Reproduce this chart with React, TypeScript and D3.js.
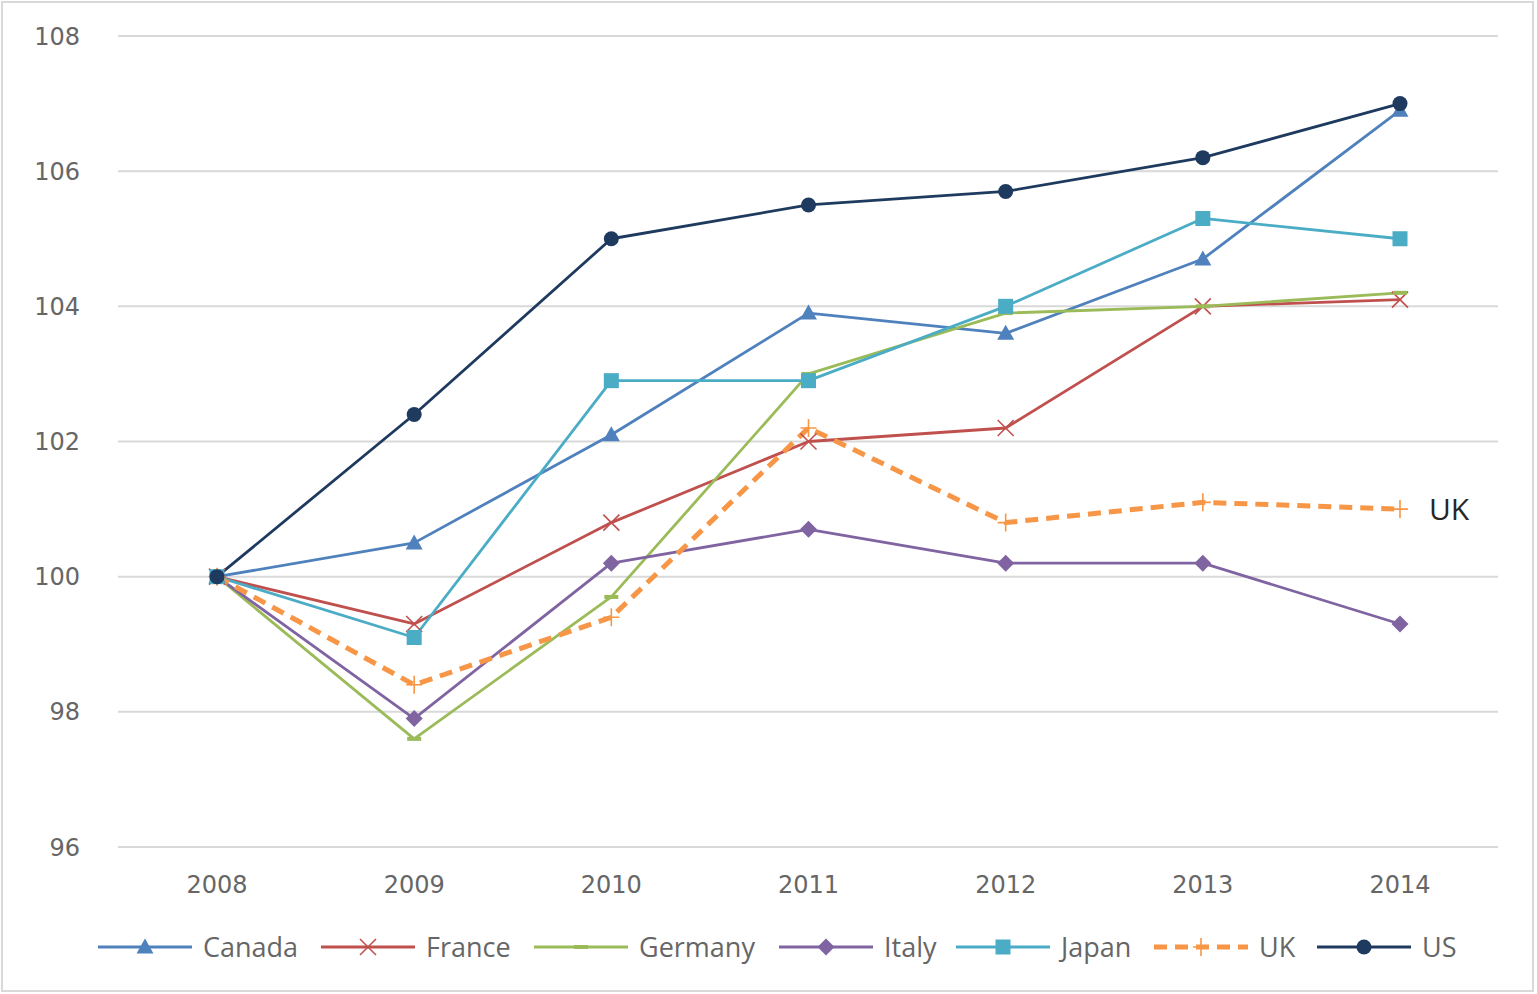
import React from "react";
import * as d3 from "d3";

// Real GDP index, 2008 = 100
const years = ["2008", "2009", "2010", "2011", "2012", "2013", "2014"];
const yTicks = [96, 98, 100, 102, 104, 106, 108];

const canada = [100, 100.5, 102.1, 103.9, 103.6, 104.7, 106.9];
const france = [100, 99.3, 100.8, 102.0, 102.2, 104.0, 104.1];
const germany = [100, 97.6, 99.7, 103.0, 103.9, 104.0, 104.2];
const italy = [100, 97.9, 100.2, 100.7, 100.2, 100.2, 99.3];
const japan = [100, 99.1, 102.9, 102.9, 104.0, 105.3, 105.0];
const uk = [100, 98.4, 99.4, 102.2, 100.8, 101.1, 101.0];
const us = [100, 102.4, 105.0, 105.5, 105.7, 106.2, 107.0];

type Marker = "triangle" | "cross" | "dash" | "diamond" | "square" | "plus" | "circle";
interface Series {
  name: string;
  values: number[];
  color: string;
  marker: Marker;
  dashed?: boolean;
}

const series: Series[] = [
  { name: "Canada", values: canada, color: "#4F81BD", marker: "triangle" },
  { name: "France", values: france, color: "#C0504D", marker: "cross" },
  { name: "Germany", values: germany, color: "#9BBB59", marker: "dash" },
  { name: "Italy", values: italy, color: "#8064A2", marker: "diamond" },
  { name: "Japan", values: japan, color: "#4BACC6", marker: "square" },
  { name: "UK", values: uk, color: "#F79646", marker: "plus", dashed: true },
  { name: "US", values: us, color: "#1F3A5F", marker: "circle" },
];

// legend item start positions (line start) in px
const legendX = [98, 321, 534, 779, 956, 1154, 1317];

const W = 1537;
const H = 994;
const FONT = "'Open Sans', 'DejaVu Sans', sans-serif";
const TICK_FONT = "'DejaVu Sans', 'Open Sans', sans-serif";

function MarkerShape({ type, x, y, color }: { type: Marker; x: number; y: number; color: string }) {
  switch (type) {
    case "triangle":
      return <path d={`M${x},${y - 8.5} L${x + 8.5},${y + 6.5} L${x - 8.5},${y + 6.5} Z`} fill={color} />;
    case "cross":
      return (
        <path
          d={`M${x - 8},${y - 8} L${x + 8},${y + 8} M${x - 8},${y + 8} L${x + 8},${y - 8}`}
          stroke={color}
          strokeWidth={1.6}
          fill="none"
        />
      );
    case "dash":
      return <rect x={x - 7} y={y - 2} width={14} height={4} fill={color} />;
    case "diamond":
      return <path d={`M${x},${y - 8.5} L${x + 8.5},${y} L${x},${y + 8.5} L${x - 8.5},${y} Z`} fill={color} />;
    case "square":
      return <rect x={x - 7.5} y={y - 7.5} width={15} height={15} fill={color} />;
    case "plus":
      return (
        <path
          d={`M${x - 8},${y} L${x + 8},${y} M${x},${y - 9} L${x},${y + 9}`}
          stroke={color}
          strokeWidth={1.6}
          fill="none"
        />
      );
    case "circle":
      return <circle cx={x} cy={y} r={7.5} fill={color} />;
  }
}

export default function App() {
  const x = d3.scalePoint<string>().domain(years).range([217, 1400]);
  const y = d3.scaleLinear().domain([96, 108]).range([847, 36]);
  const line = d3
    .line<number>()
    .x((_, i) => x(years[i]) as number)
    .y((v) => y(v));

  const ukLast = uk[uk.length - 1];

  return (
    <svg
      width={W}
      height={H}
      style={{ position: "absolute", left: 0, top: 0, background: "#fff" }}
      fontFamily={FONT}
    >
      <rect x={2} y={2} width={W - 6} height={H - 5} fill="#fff" stroke="#d9d9d9" strokeWidth={2} />

      {/* horizontal gridlines and value labels */}
      {yTicks.map((t) => (
        <g key={t}>
          <line x1={118} x2={1498} y1={y(t)} y2={y(t)} stroke="#d9d9d9" strokeWidth={2} />
          <text
            x={80}
            y={y(t)}
            dy="0.36em"
            textAnchor="end"
            fontSize={24}
            fill="#666"
            fontFamily={TICK_FONT}
          >
            {t}
          </text>
        </g>
      ))}

      {/* category labels */}
      {years.map((yr) => (
        <text
          key={yr}
          x={x(yr)}
          y={893}
          textAnchor="middle"
          fontSize={24}
          fill="#666"
          fontFamily={TICK_FONT}
        >
          {yr}
        </text>
      ))}

      {/* series lines */}
      {series.map((s) => (
        <path
          key={s.name}
          d={line(s.values) || ""}
          fill="none"
          stroke={s.color}
          strokeWidth={s.dashed ? 5 : 2.8}
          strokeDasharray={s.dashed ? "13 8" : undefined}
          strokeLinejoin="round"
        />
      ))}

      {/* markers */}
      {series.map((s) => (
        <g key={s.name + "-m"}>
          {s.values.map((v, i) => (
            <MarkerShape key={i} type={s.marker} x={x(years[i]) as number} y={y(v)} color={s.color} />
          ))}
        </g>
      ))}

      {/* direct label for UK */}
      <text x={1429} y={y(ukLast)} dy="0.36em" fontSize={30} fill="#262626">
        UK
      </text>

      {/* legend */}
      {series.map((s, i) => {
        const lx = legendX[i];
        const ly = 947;
        return (
          <g key={s.name + "-legend"}>
            <line
              x1={lx}
              x2={lx + 94}
              y1={ly}
              y2={ly}
              stroke={s.color}
              strokeWidth={s.dashed ? 5 : 2.8}
              strokeDasharray={s.dashed ? "13 8" : undefined}
            />
            <MarkerShape type={s.marker} x={lx + 47} y={ly} color={s.color} />
            <text x={lx + 105} y={ly} dy="0.36em" fontSize={27} fill="#666">
              {s.name}
            </text>
          </g>
        );
      })}
    </svg>
  );
}
